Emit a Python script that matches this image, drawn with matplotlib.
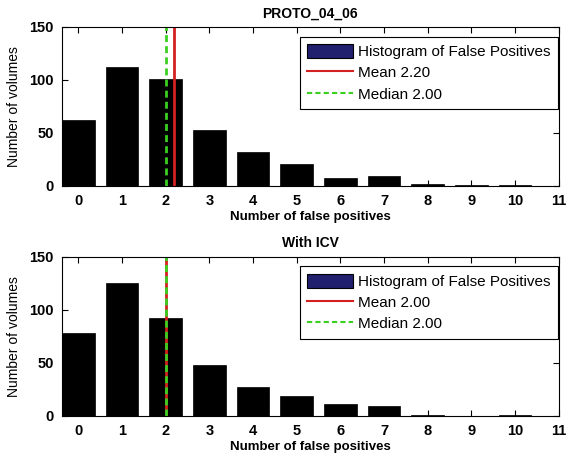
import matplotlib
matplotlib.use("Agg")
import matplotlib.pyplot as plt
from matplotlib.patches import Patch
from matplotlib.lines import Line2D

bins = list(range(11))
counts_proto = [62, 112, 101, 53, 32, 21, 8, 9, 2, 1, 1]
counts_icv = [78, 125, 92, 48, 27, 19, 11, 9, 1, 0, 1]
titles = ["PROTO_04_06", "With ICV"]
means = [2.20, 2.00]
medians = [2.00, 2.00]
xticks = list(range(12))
yticks = [0, 50, 100, 150]

plt.rcParams['font.family'] = ['Liberation Sans', 'DejaVu Sans']

fig = plt.figure(figsize=(5.69, 4.59), dpi=100)
ax_top = fig.add_axes([0.109, 0.5948, 0.873, 0.3464])
ax_bot = fig.add_axes([0.109, 0.0943, 0.873, 0.3464])

for ax, counts, title, mean, med in zip([ax_top, ax_bot], [counts_proto, counts_icv],
                                        titles, means, medians):
    ax.bar(bins, counts, width=0.75, color='black', edgecolor='black', linewidth=0.5)
    ax.axvline(mean, color='#d42020', lw=2)
    ax.axvline(med, color='#3ad020', lw=2, ls=(0, (2.5, 1.5)))
    ax.set_xlim(-0.375, 11)
    ax.set_ylim(0, 150)
    ax.set_xticks(xticks)
    ax.set_yticks(yticks)
    ax.tick_params(direction='in', top=True, right=True, length=4, width=0.8,
                   labelsize=10.5, pad=6)
    for lab in ax.get_xticklabels() + ax.get_yticklabels():
        lab.set_fontweight('bold')
    ax.set_title(title, fontsize=10, fontweight='bold', pad=7)
    ax.set_xlabel("Number of false positives", fontsize=9.5, fontweight='bold', labelpad=2)
    ax.set_ylabel("Number of volumes", fontsize=10, labelpad=6)
    handles = [Patch(facecolor='#20206e', edgecolor='black', lw=0.8),
               Line2D([], [], color='#d42020', lw=1.5),
               Line2D([], [], color='#3ad020', lw=1.5, ls=(0, (2.5, 1.5)))]
    labels = ["Histogram of False Positives", "Mean %.2f" % mean, "Median %.2f" % med]
    leg = ax.legend(handles, labels, loc='upper right', bbox_to_anchor=(0.998, 0.94),
                    fontsize=11, handlelength=3.0, handletextpad=0.3, handleheight=1.0,
                    fancybox=False, framealpha=1, edgecolor='black', borderpad=0.5,
                    labelspacing=0.4, borderaxespad=0)
    leg.get_frame().set_linewidth(0.8)

fig.savefig("out.png", dpi=100)
